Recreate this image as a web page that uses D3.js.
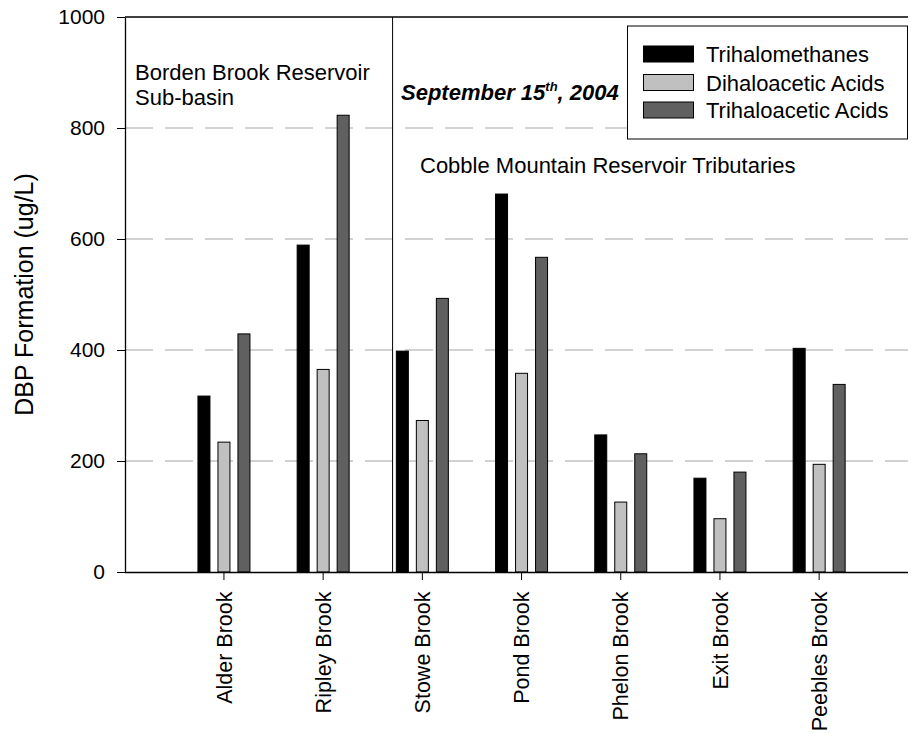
<!DOCTYPE html>
<html>
<head>
<meta charset="utf-8">
<script src="https://cdn.jsdelivr.net/npm/d3@7/dist/d3.min.js"></script>
<style>
  html, body { margin: 0; padding: 0; background: #fff; }
  svg { display: block; }
  text { font-family: "Liberation Sans", Arial, sans-serif; fill: #000; }
</style>
</head>
<body>
<svg id="chart" width="911" height="733"></svg>
<script>
// Sampling sites (x categories)
const categories = ["Alder Brook", "Ripley Brook", "Stowe Brook", "Pond Brook",
                    "Phelon Brook", "Exit Brook", "Peebles Brook"];

// DBP formation by class, ug/L
const seriesNames = ["Trihalomethanes", "Dihaloacetic Acids", "Trihaloacetic Acids"];
const trihalomethanes   = [317, 589, 398, 681, 247, 169, 403];
const dihaloacetic      = [234, 365, 273, 358, 126,  96, 194];
const trihaloacetic     = [429, 823, 493, 567, 213, 180, 338];
const seriesValues = [trihalomethanes, dihaloacetic, trihaloacetic];
const seriesColors = ["#000000", "#c0c0c0", "#606060"];

const yTicks = [0, 200, 400, 600, 800, 1000];
const gridValues = [200, 400, 600, 800];

const svg = d3.select("#chart");
const plotLeft = 125, plotRight = 908, plotTop = 17, plotBottom = 572;

const y = d3.scaleLinear().domain([0, 1000]).range([plotBottom, plotTop]);

const x0 = d3.scaleBand()
  .domain(categories)
  .range([plotLeft, plotRight])
  .paddingInner(0)
  .paddingOuter(0.4466)
  .align(0.557);

const x1 = d3.scaleBand()
  .domain(seriesNames)
  .range([-30, 30])
  .paddingInner(0.4)
  .paddingOuter(0.2);

const center = c => x0(c) + x0.bandwidth() / 2;

// dashed horizontal grid
svg.append("g").selectAll("line")
  .data(gridValues)
  .join("line")
  .attr("x1", plotLeft).attr("x2", plotRight)
  .attr("y1", d => y(d)).attr("y2", d => y(d))
  .attr("stroke", "#c4c4c4")
  .attr("stroke-width", 1.5)
  .attr("stroke-dasharray", "28,12");

// bars
const rows = [];
categories.forEach((c, i) => {
  seriesNames.forEach((s, j) => rows.push({ c, s, v: seriesValues[j][i], color: seriesColors[j] }));
});
svg.append("g").selectAll("rect")
  .data(rows)
  .join("rect")
  .attr("x", d => center(d.c) + x1(d.s))
  .attr("width", x1.bandwidth())
  .attr("y", d => y(d.v))
  .attr("height", d => y(0) - y(d.v))
  .attr("fill", d => d.color)
  .attr("stroke", "#000")
  .attr("stroke-width", 1);

// divider between the two sub-basins
const dividerX = center("Ripley Brook") + 0.7 * x0.step();
svg.append("line")
  .attr("x1", dividerX).attr("x2", dividerX)
  .attr("y1", plotTop).attr("y2", plotBottom)
  .attr("stroke", "#000").attr("stroke-width", 1);

// y axis
const yAxis = svg.append("g")
  .attr("transform", `translate(${plotLeft},0)`)
  .call(d3.axisLeft(y).tickValues(yTicks).tickFormat(d3.format("d"))
    .tickSize(8).tickPadding(12).tickSizeOuter(0));
yAxis.select(".domain").attr("stroke-width", 1.3);
yAxis.selectAll("text").style("font-size", "21px");

// top frame line
svg.append("line")
  .attr("x1", plotLeft).attr("x2", plotRight)
  .attr("y1", plotTop).attr("y2", plotTop)
  .attr("stroke", "#000").attr("stroke-width", 1.3);

// x axis
const xAxis = svg.append("g")
  .attr("transform", `translate(0,${plotBottom})`)
  .call(d3.axisBottom(x0).tickSize(8).tickSizeOuter(0));
xAxis.select(".domain").attr("d", `M${plotLeft},0.5H${plotRight}`).attr("stroke-width", 1.3);
xAxis.selectAll("text")
  .style("font-size", "21.5px")
  .attr("text-anchor", "end")
  .attr("transform", "rotate(-90)")
  .attr("x", -19.5)
  .attr("y", 0)
  .attr("dy", "0.36em");

// y axis title
svg.append("text")
  .attr("transform", `translate(33,${(plotTop + plotBottom) / 2}) rotate(-90)`)
  .attr("text-anchor", "middle")
  .style("font-size", "25px")
  .text("DBP Formation (ug/L)");

// annotations
svg.append("text").attr("x", 135).attr("y", 80).style("font-size", "22px").text("Borden Brook Reservoir");
svg.append("text").attr("x", 135).attr("y", 105).style("font-size", "22px").text("Sub-basin");
svg.append("text").attr("x", 420).attr("y", 173).style("font-size", "22px").text("Cobble Mountain Reservoir Tributaries");

const dateText = svg.append("text")
  .attr("x", 401).attr("y", 100)
  .style("font-size", "22px")
  .style("font-weight", "bold")
  .style("font-style", "italic");
dateText.append("tspan").text("September 15");
dateText.append("tspan").attr("dy", -9).style("font-size", "13px").text("th");
dateText.append("tspan").attr("dy", 9).text(", 2004");

// legend
const legend = svg.append("g");
legend.append("rect")
  .attr("x", 627.5).attr("y", 26)
  .attr("width", 280).attr("height", 113)
  .attr("fill", "#fff").attr("stroke", "#000").attr("stroke-width", 1);
const rowY = [54, 82.5, 110];
seriesNames.forEach((s, j) => {
  legend.append("rect")
    .attr("x", 643.5).attr("y", rowY[j] - 8)
    .attr("width", 50).attr("height", 16)
    .attr("fill", seriesColors[j]).attr("stroke", "#000").attr("stroke-width", 1);
  legend.append("text")
    .attr("x", 706).attr("y", rowY[j] + 8)
    .style("font-size", "22px")
    .text(s);
});
</script>
</body>
</html>
